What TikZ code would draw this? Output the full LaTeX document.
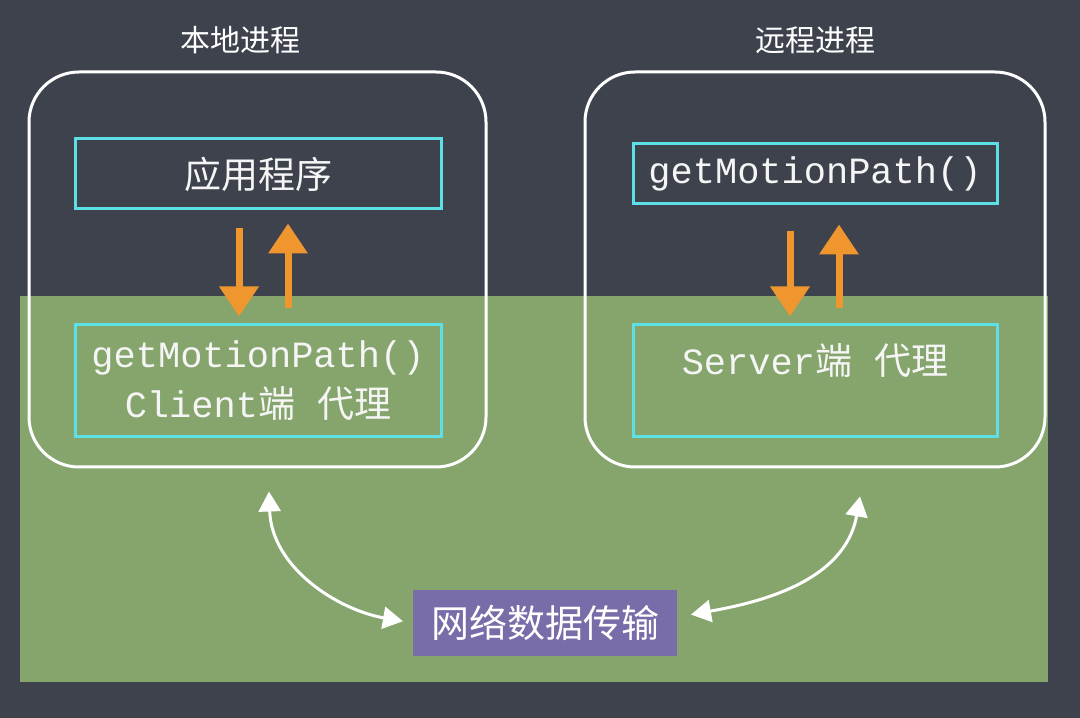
\documentclass[tikz,border=0pt]{standalone}
\usepackage{fontspec}
\setmainfont{Noto Sans CJK SC}
\newfontfamily\mono{Liberation Mono}
\usetikzlibrary{arrows.meta}
\definecolor{slate}{HTML}{3E424D}
\definecolor{board}{HTML}{85A56D}
\definecolor{cyanline}{HTML}{5DDFE6}
\definecolor{chalkorange}{HTML}{F0962E}
\definecolor{netpurple}{HTML}{7A6CA8}
\begin{document}
\begin{tikzpicture}[x=1pt,y=1pt,
  procbox/.style={draw=white,line width=3pt,rounded corners=50pt,inner sep=0pt},
  cyanbox/.style={draw=cyanline,line width=3pt,minimum width=366pt,inner sep=0pt,
    text=white!92!gray,align=center,font=\fontsize{37}{50}\selectfont},
  title/.style={text=white,font=\fontsize{30}{36}\selectfont},
  flowarrow/.style={draw=chalkorange,line width=7pt,-{Triangle[width=38pt,length=30pt]}},
  netarrow/.style={draw=white,line width=3pt,{Triangle[width=22pt,length=20pt]}-{Triangle[width=22pt,length=20pt]}}]
  \useasboundingbox (0,0) rectangle (1080,718);
  \fill[slate] (0,0) rectangle (1080,718);
  \fill[board] (20,36) rectangle (1048,422);

  % processes
  \node[title] (ltitle) at (240,678) {本地进程};
  \node[title] (rtitle) at (815,678) {远程进程};
  \node[procbox,minimum width=457pt,minimum height=395pt] (lproc) at (257.5,448.5) {};
  \node[procbox,minimum width=460pt,minimum height=395pt] (rproc) at (815,448.5) {};

  % boxes
  \node[cyanbox,minimum height=70pt] (app) at (258,544) {应用程序};
  \node[cyanbox,minimum width=364pt,minimum height=60pt] (rmethod) at (815,544) {\mono getMotionPath()};
  \node[cyanbox,minimum height=112pt] (lproxy) at (258,337) {{\mono getMotionPath()}\\{\mono Client}端\hspace{0.6em}代理};
  \node[cyanbox,minimum width=364pt,minimum height=112pt,text depth=44pt] (rproxy) at (815,337) {{\mono Server}端\hspace{0.6em}代理};
  \node[fill=netpurple,minimum width=264pt,minimum height=66pt,text=white,
    font=\fontsize{38}{44}\selectfont] (net) at (545,95) {网络数据传输};

  % calls
  \draw[flowarrow,shorten <=18pt,shorten >=7pt] ([xshift=-19pt]app.south) -- ([xshift=-19pt]lproxy.north);
  \draw[flowarrow,shorten <=15pt,shorten >=13pt] ([xshift=30pt]lproxy.north) -- ([xshift=30pt]app.south);
  \draw[flowarrow,shorten <=26pt,shorten >=7pt] ([xshift=-25pt]rmethod.south) -- ([xshift=-25pt]rproxy.north);
  \draw[flowarrow,shorten <=15pt,shorten >=19pt] ([xshift=24pt]rproxy.north) -- ([xshift=24pt]rmethod.south);

  % network
  \draw[netarrow,shorten >=10pt] ([xshift=11.5pt,yshift=-23pt]lproc.south) to[out=-88,in=170] (net.west);
  \draw[netarrow,shorten <=14pt] ([yshift=6pt]net.east) to[out=10,in=-100] ([xshift=45pt,yshift=-28pt]rproc.south);
\end{tikzpicture}
\end{document}
